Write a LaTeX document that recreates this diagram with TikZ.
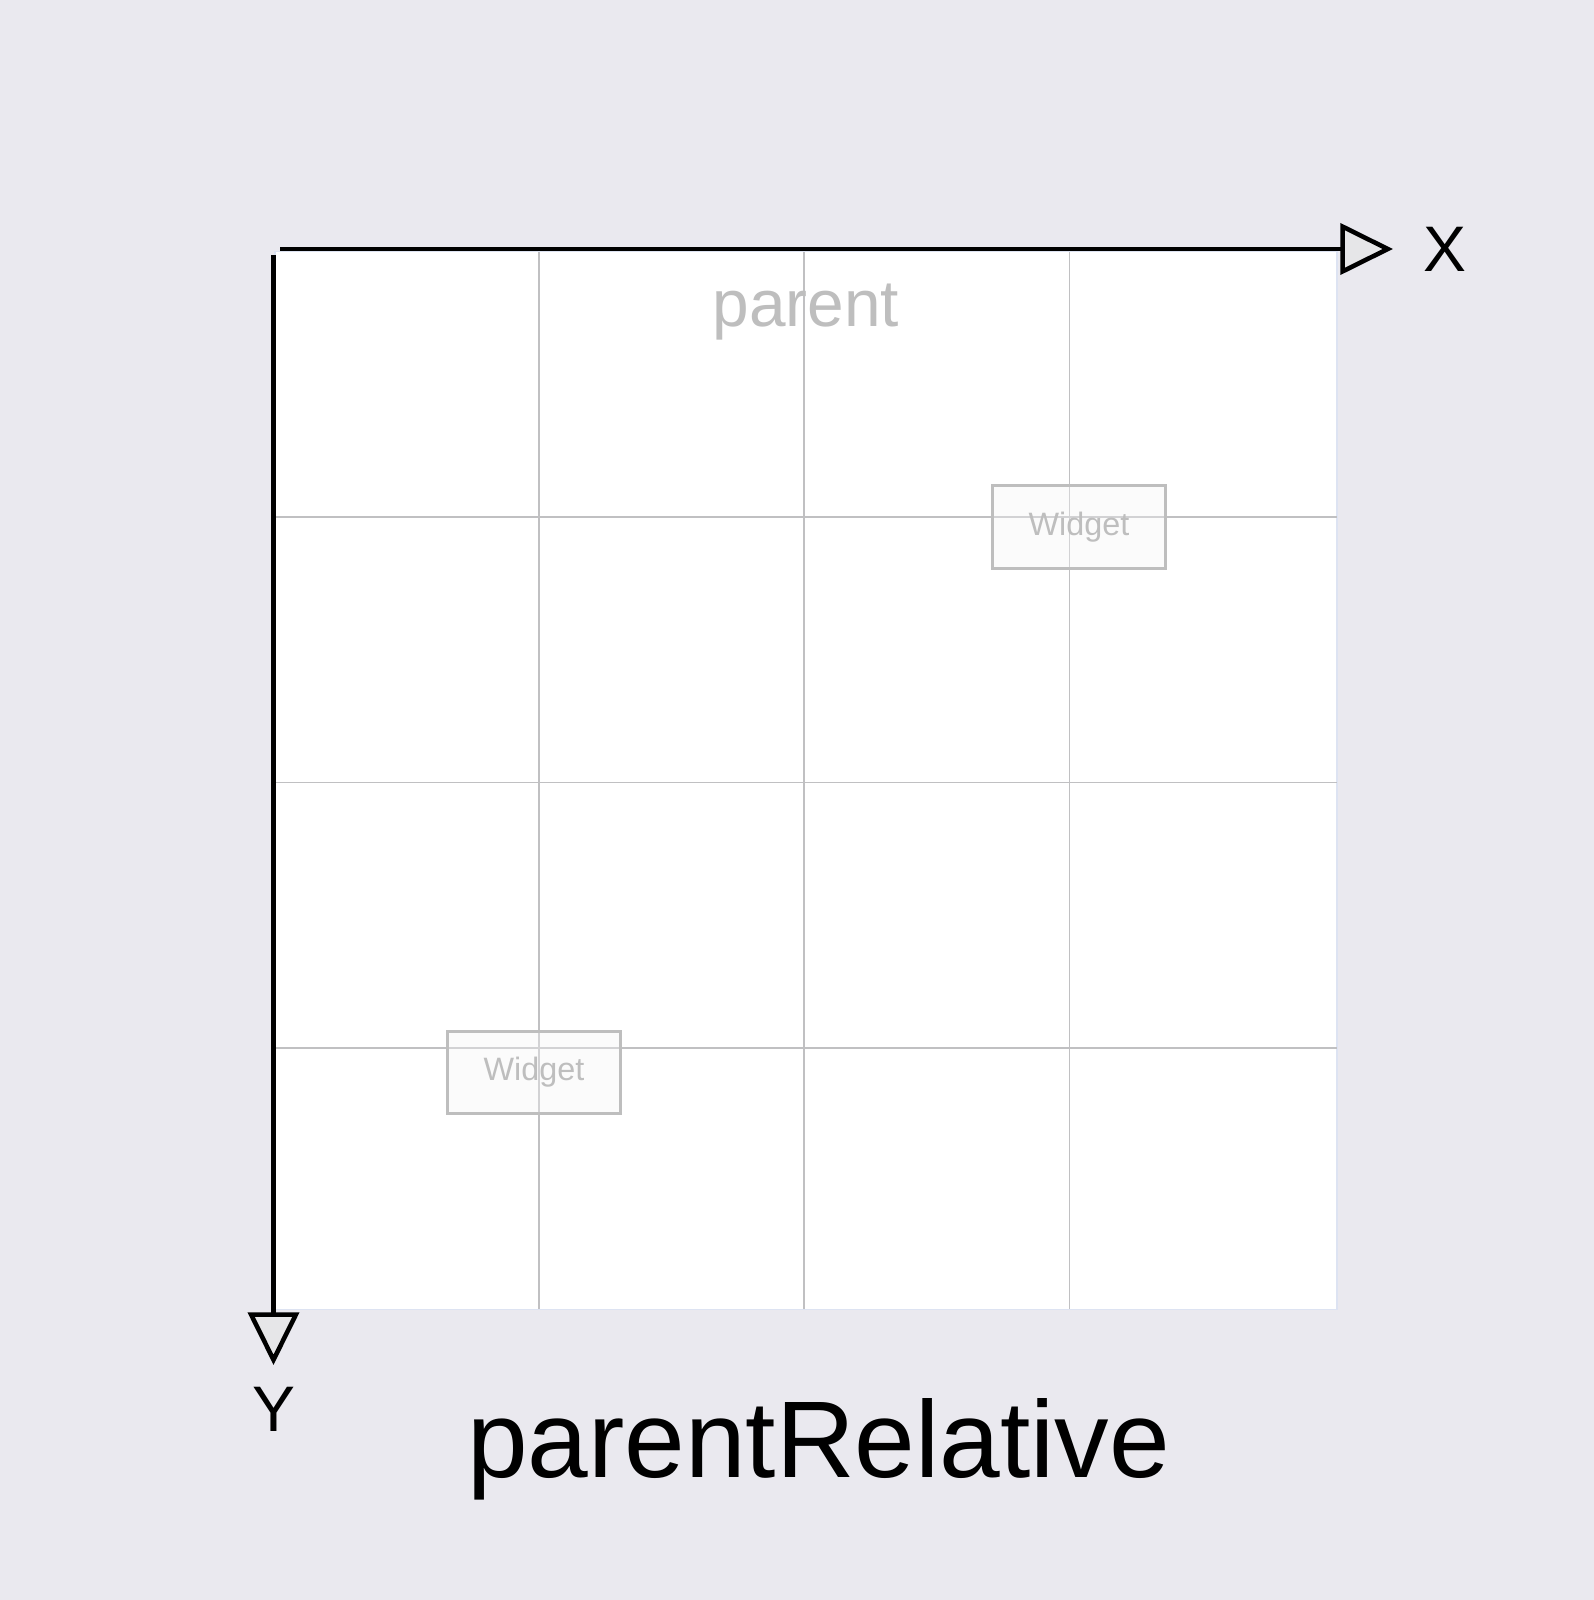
\documentclass[tikz,border=0pt]{standalone}
\usepackage{fontspec}
\setmainfont{Liberation Sans}
\usepackage{tikz}
\usetikzlibrary{arrows.meta, positioning}
\definecolor{bgback}{RGB}{234,233,239}
\definecolor{gridgray}{RGB}{192,192,194}
\definecolor{labelgray}{RGB}{190,190,190}
\definecolor{widgetfill}{RGB}{246,246,246}
\definecolor{edgeblue}{RGB}{221,227,242}
\definecolor{tipfill}{RGB}{230,230,232}
\tikzset{
  parentbox/.style={rectangle, draw=edgeblue, fill=white, line width=0.4pt,
    minimum width=10.61cm, minimum height=10.57cm, inner sep=0pt},
  gridline/.style={color=gridgray, line width=0.5pt},
  widget/.style={rectangle, draw=labelgray, fill=widgetfill, fill opacity=0.35,
    draw opacity=1, text opacity=1, minimum width=1.73cm, minimum height=0.82cm,
    inner sep=0pt, line width=0.85pt, text=labelgray,
    font=\fontsize{9.2}{11}\selectfont},
  parenttext/.style={text=labelgray, font=\fontsize{18.7}{22}\selectfont, inner sep=0pt},
  axis/.style={line width=1.2pt, color=black,
    -{Triangle[length=15pt, width=14.5pt, fill=tipfill, line width=1.3pt]}},
  axislabel/.style={font=\fontsize{18.3}{22}\selectfont, inner sep=0pt},
  titletext/.style={font=\fontsize{31}{36}\selectfont, inner sep=0pt}
}

\begin{document}
\begin{tikzpicture}[x=0.01cm, y=-0.01cm]
  % Background
  \fill[bgback] (0,0) rectangle (1594,1600);
  \useasboundingbox (0,0) rectangle (1594,1600);

  % Parent area
  \node[parentbox] (parent) at (806,780.5) {};
  \foreach \gx in {539, 804, 1069.5}
    \draw[gridline] (\gx,252) -- (\gx,1309);
  \foreach \gy in {517.3, 782.6, 1047.9}
    \draw[gridline] (275.5,\gy) -- (1336.5,\gy);
  \node[parenttext, anchor=base] (parentlabel) at (806,326.5) {parent};

  % Widgets
  \node[widget] (widgetA) at (1079,527) {Widget};
  \node[widget] (widgetB) at (534,1072.5) {Widget};

  % Axes
  \coordinate (xstart) at (280,249);
  \coordinate (xend) at (1393,249);
  \coordinate (ystart) at (273.5,255);
  \coordinate (yend) at (273.5,1365);
  \draw[axis] (xstart) -- (xend);
  \draw[axis] (ystart) -- (yend);
  \node[axislabel, right=0.3cm of xend] (xlabel) {X};
  \node[axislabel, below=0.21cm of yend] (ylabel) {Y};

  % Title
  \node[titletext, anchor=base] (title) at (818.5,1477) {parentRelative};
\end{tikzpicture}
\end{document}
